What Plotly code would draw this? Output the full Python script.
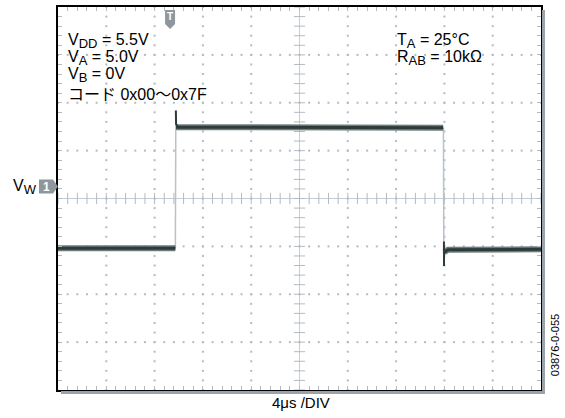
import numpy as np
import plotly.graph_objects as go

# Time base: 10 divisions x 4 us; vertical axis in screen divisions (8 div)
T_DIV = 4.0
X_RANGE = [0, 40]
Y_RANGE = [-4, 4]

# V_W trace, piecewise: low level, rising edge, high level, falling edge, low level
low1_t = [0.0, 9.72]
low1_v = [-1.04, -1.04]
rise_t = [9.72, 9.76]
rise_v = [-1.04, 1.84]
spike_t = [9.76, 9.78, 9.95]
spike_v = [1.84, 1.55, 1.49]
high_t = [9.78, 31.90]
high_v = [1.49, 1.48]
fall_t = [31.92, 31.95]
fall_v = [1.48, -0.95]
under_t = [31.96, 31.97]
under_v = [-0.90, -1.41]
low2_t = [31.98, 32.3, 40.0]
low2_v = [-1.12, -1.07, -1.06]

TRIG_T = 9.28          # trigger position marker
CH1_REF = 0.25         # channel 1 ground reference (div)

FONT = "Liberation Sans, Arial, Noto Sans CJK JP, sans-serif"
TRACE_DARK = "#2e3b3b"
TRACE_FUZZ = "#6f7c7c"
EDGE = "#b9c2c9"
GRID = "#b3bbc3"

fig = go.Figure()

# graticule dots
xs_major = [T_DIV * k for k in range(1, 10) if k != 5]
ys_minor = np.round(np.arange(-4, 4.001, 0.2), 3)
gx, gy = [], []
for xm in xs_major:
    for yv in ys_minor:
        gx.append(xm); gy.append(yv)
ys_major = [k for k in range(-3, 4) if k != 0]
xs_minor = np.round(np.arange(0, 40.001, 0.8), 3)
for ym in ys_major:
    for xv in xs_minor:
        gx.append(xv); gy.append(ym)
fig.add_trace(go.Scatter(x=gx, y=gy, mode="markers",
                         marker=dict(symbol="square", size=2, color=GRID),
                         hoverinfo="skip", showlegend=False))

# center cross with minor tick marks
fig.add_shape(type="line", x0=0, x1=40, y0=0, y1=0, line=dict(color="#c6ced5", width=1), layer="below")
fig.add_shape(type="line", x0=20, x1=20, y0=-4, y1=4, line=dict(color="#c6ced5", width=1), layer="below")
fig.add_trace(go.Scatter(x=list(xs_minor), y=[0] * len(xs_minor), mode="markers",
                         marker=dict(symbol="line-ns", size=8, line=dict(color="#b2bbc3", width=1)),
                         hoverinfo="skip", showlegend=False))
fig.add_trace(go.Scatter(x=[20] * len(ys_minor), y=list(ys_minor), mode="markers",
                         marker=dict(symbol="line-ew", size=8, line=dict(color="#b2bbc3", width=1)),
                         hoverinfo="skip", showlegend=False))

# edges (thin, faint)
for t, v in [(rise_t, rise_v), (fall_t, fall_v)]:
    fig.add_trace(go.Scatter(x=t, y=v, mode="lines", line=dict(color=EDGE, width=1.5),
                             hoverinfo="skip", showlegend=False))

# settled levels (thick, dark with lighter fuzz)
for t, v in [(low1_t, low1_v), (high_t, high_v), (low2_t, low2_v)]:
    fig.add_trace(go.Scatter(x=t, y=v, mode="lines", line=dict(color=TRACE_FUZZ, width=6),
                             hoverinfo="skip", showlegend=False))
    fig.add_trace(go.Scatter(x=t, y=v, mode="lines", line=dict(color=TRACE_DARK, width=3),
                             hoverinfo="skip", showlegend=False))
for t, v in [(spike_t, spike_v), (under_t, under_v)]:
    fig.add_trace(go.Scatter(x=t, y=v, mode="lines", line=dict(color=TRACE_DARK, width=2),
                             hoverinfo="skip", showlegend=False))

W, H = 565, 418
L, R, TOP, B = 58, 24, 5, 28
PW, PH = W - L - R, H - TOP - B


def px_x(p):
    return (p - L) / PW


def px_y(p):
    return (H - B - p) / PH


def sub(s):
    # larger subscript than the default 70 %
    return f'<sub><span style="font-size:13px">{s}</span></sub>'


# frame shadow on right and bottom
fig.add_shape(type="rect", xref="paper", yref="paper", x0=px_x(542), x1=px_x(545),
              y0=px_y(394), y1=px_y(8), fillcolor="#9aa3aa", line=dict(width=0))
fig.add_shape(type="rect", xref="paper", yref="paper", x0=px_x(61), x1=px_x(545),
              y0=px_y(394), y1=px_y(391), fillcolor="#9aa3aa", line=dict(width=0))

# channel 1 reference marker
bx0, bx1, tip = px_x(39), px_x(53), px_x(58)
hh = 7 / PH * 8
fig.add_shape(type="path", xref="paper", yref="y",
              path=f"M {bx0},{CH1_REF + hh} L {bx1},{CH1_REF + hh} L {tip},{CH1_REF} "
                   f"L {bx1},{CH1_REF - hh} L {bx0},{CH1_REF - hh} Z",
              fillcolor="#8d979d", line=dict(width=0))
fig.add_annotation(xref="paper", yref="y", x=px_x(46), y=CH1_REF, xanchor="center", yanchor="middle",
                   text="<b>1</b>", showarrow=False, font=dict(family=FONT, size=12, color="white"))
fig.add_annotation(xref="paper", yref="y", x=px_x(39), y=CH1_REF, xanchor="right", yanchor="middle",
                   text="V" + sub("W"), showarrow=False, font=dict(family=FONT, size=16, color="black"))

# trigger position marker
hw = 5 / PW * 40
fig.add_shape(type="path", xref="x", yref="paper",
              path=f"M {TRIG_T - hw},{px_y(8)} L {TRIG_T + hw},{px_y(8)} L {TRIG_T + hw},{px_y(22)} "
                   f"L {TRIG_T},{px_y(27)} L {TRIG_T - hw},{px_y(22)} Z",
              fillcolor="#8d979d", line=dict(width=0))
fig.add_annotation(xref="x", yref="paper", x=TRIG_T, y=px_y(15), xanchor="center", yanchor="middle",
                   text="<b>T</b>", showarrow=False, font=dict(family=FONT, size=10, color="white"))

# condition text
left_lines = [("V" + sub("DD") + " = 5.5V", 39), ("V" + sub("A") + " = 5.0V", 56),
              ("V" + sub("B") + " = 0V", 73), ("コード 0x00〜0x7F", 93)]
for txt, yp in left_lines:
    fig.add_annotation(xref="paper", yref="paper", x=px_x(66), y=px_y(yp), xanchor="left",
                       yanchor="middle", text=txt, showarrow=False,
                       font=dict(family=FONT, size=16, color="black"))
right_lines = [("T" + sub("A") + " = 25°C", 39), ("R" + sub("AB") + " = 10kΩ", 56)]
for txt, yp in right_lines:
    fig.add_annotation(xref="paper", yref="paper", x=px_x(395), y=px_y(yp), xanchor="left",
                       yanchor="middle", text=txt, showarrow=False,
                       font=dict(family=FONT, size=16, color="black"))

fig.add_annotation(xref="paper", yref="paper", x=px_x(301), y=px_y(403), xanchor="center",
                   yanchor="middle", text="4μs /DIV", showarrow=False,
                   font=dict(family=FONT, size=15, color="black"))
fig.add_annotation(xref="paper", yref="paper", x=px_x(555), y=px_y(345), xanchor="center",
                   yanchor="middle", text="03876-0-055", textangle=-90, showarrow=False,
                   font=dict(family=FONT, size=11, color="black"))

axis_common = dict(showgrid=False, zeroline=False, showticklabels=False,
                   showline=True, linecolor="black", linewidth=2, mirror="ticks",
                   ticks="inside", ticklen=4, tickcolor="#b2bbc3", tickwidth=1)
fig.update_xaxes(range=X_RANGE, tick0=0, dtick=0.8, **axis_common)
fig.update_yaxes(range=Y_RANGE, tick0=0, dtick=0.2, **axis_common)

fig.update_layout(width=W, height=H, margin=dict(l=L, r=R, t=TOP, b=B),
                  plot_bgcolor="white", paper_bgcolor="white", showlegend=False)

fig.write_html("out.html")
